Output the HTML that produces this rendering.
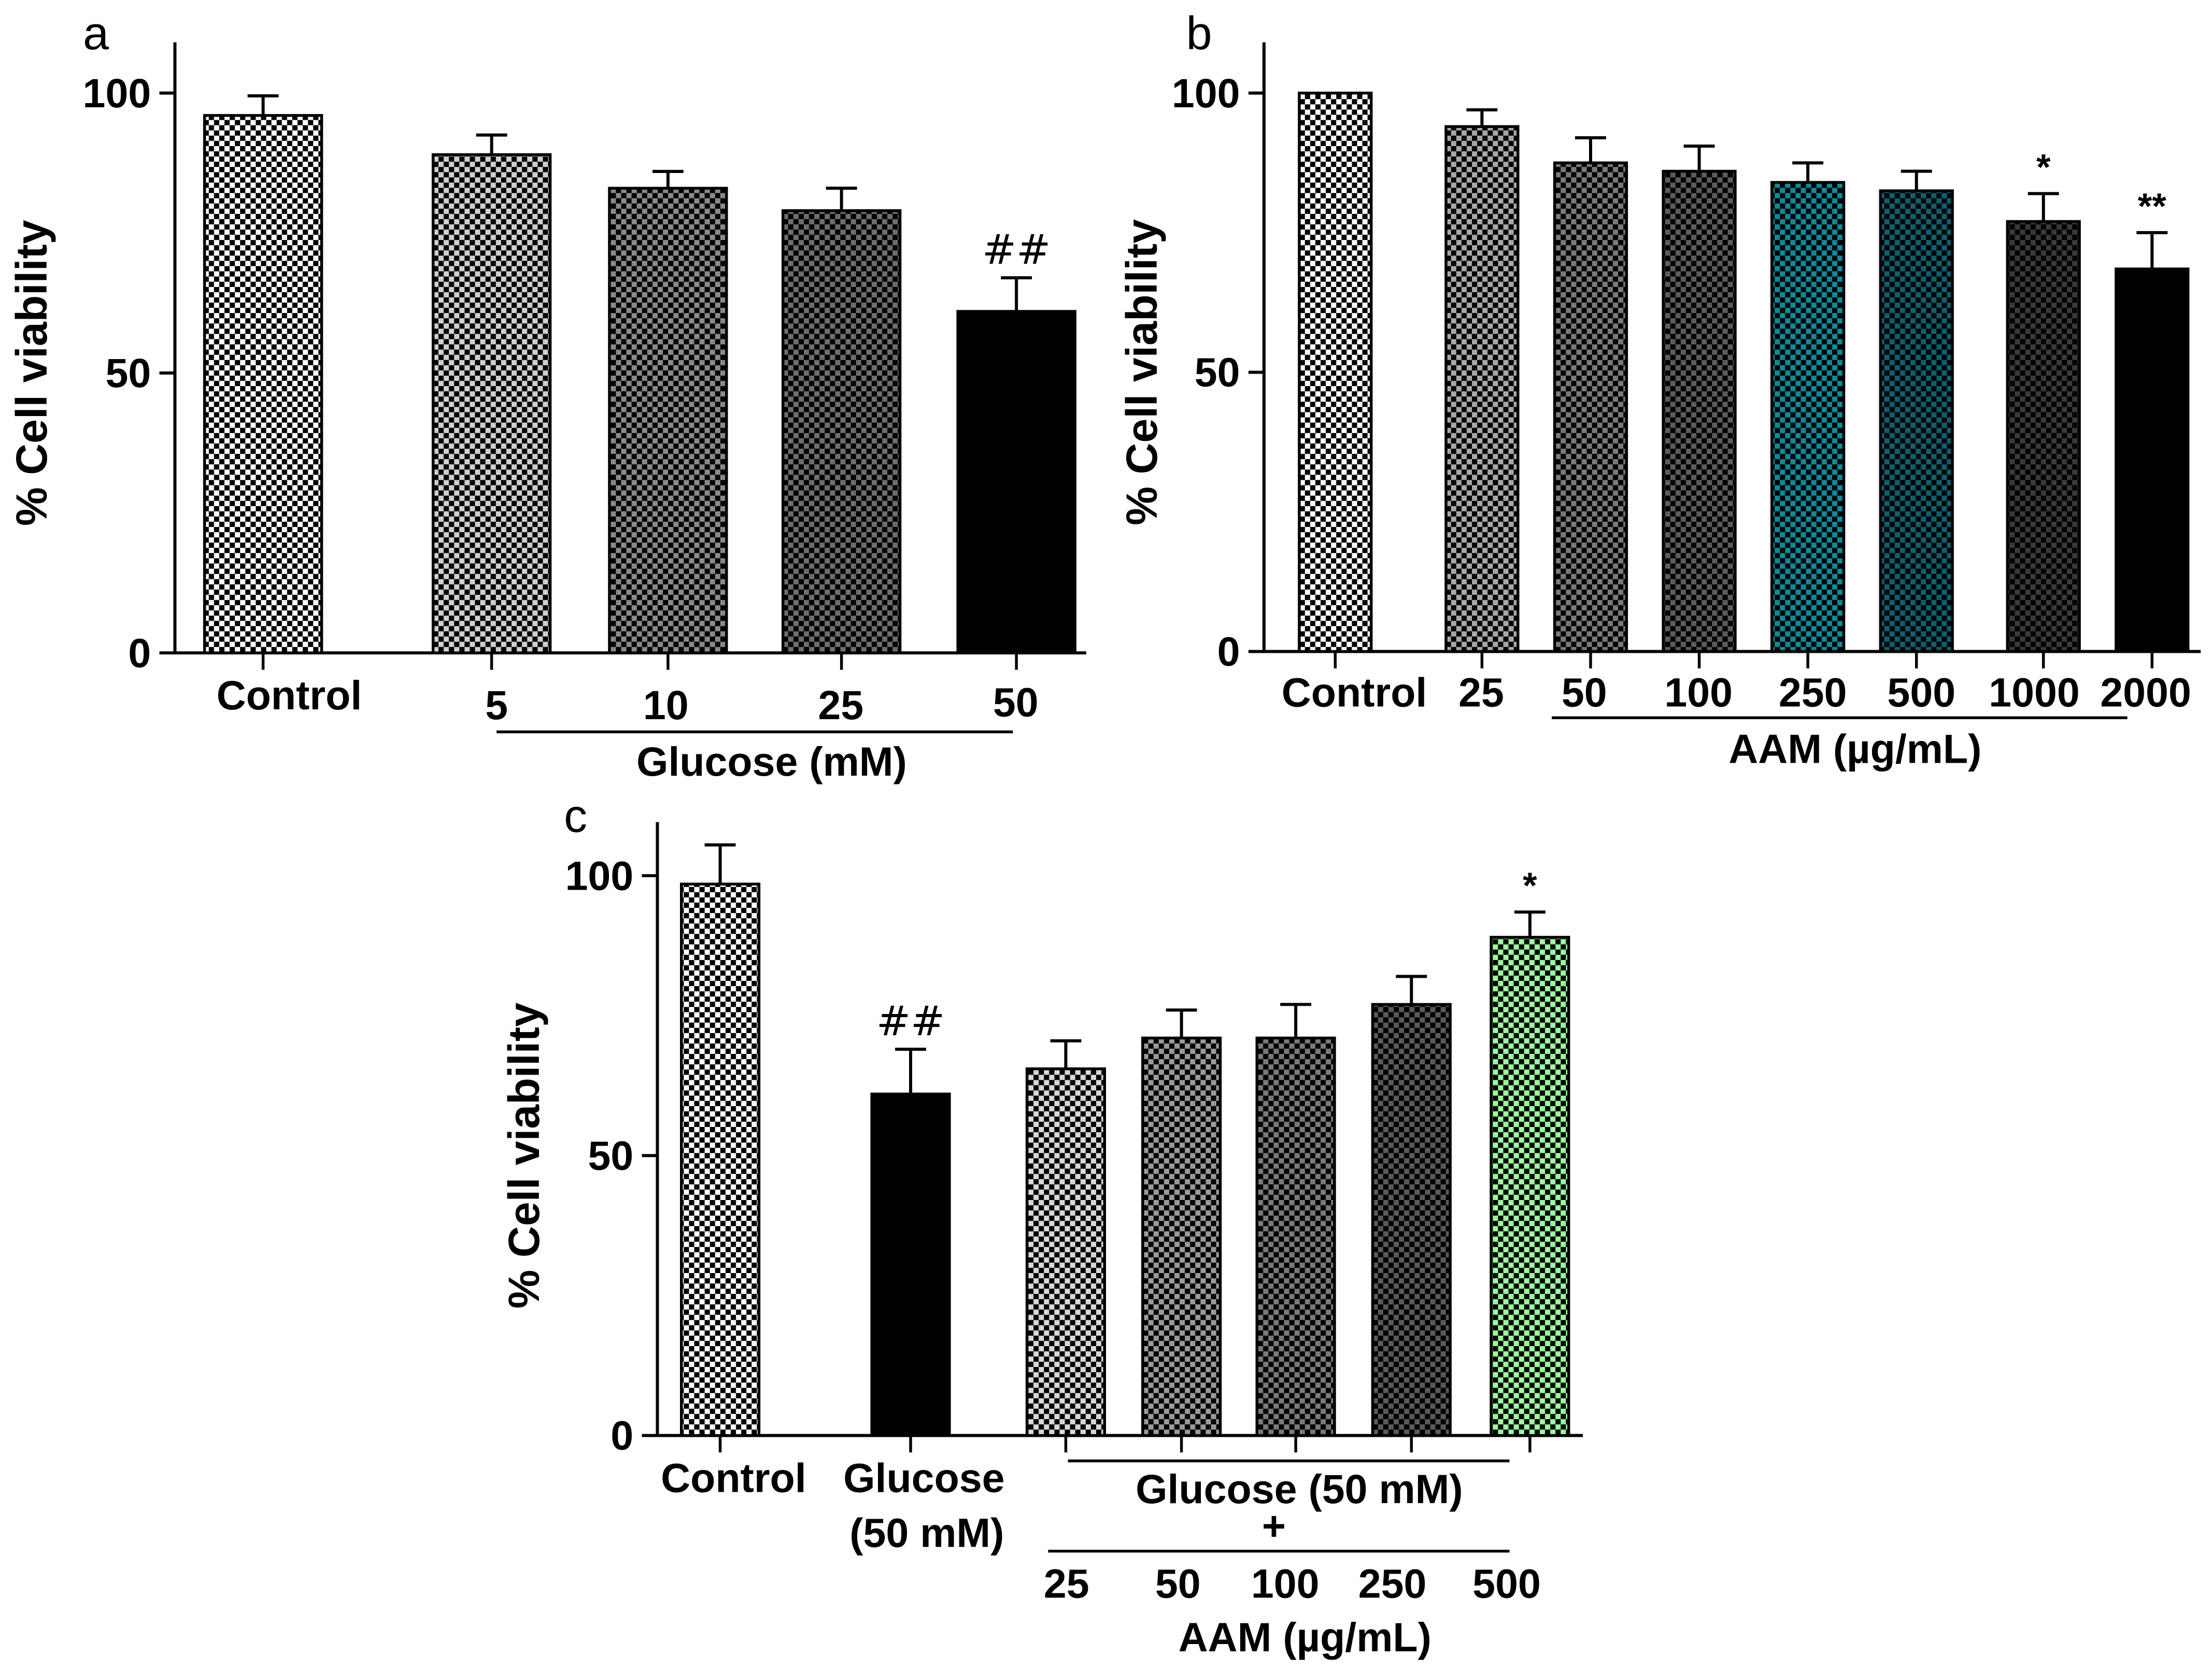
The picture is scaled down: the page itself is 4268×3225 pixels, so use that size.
<!DOCTYPE html>
<html><head><meta charset="utf-8">
<style>
html,body{margin:0;padding:0;background:#fff;}
svg{display:block;}
text{font-family:"Liberation Sans",Arial,sans-serif;font-weight:bold;fill:#000;}
</style></head>
<body>
<svg id="fig" width="4268" height="3225" viewBox="0 0 1568 1185" preserveAspectRatio="none" xmlns="http://www.w3.org/2000/svg">
<defs id="defs"></defs>
<g id="root"></g>
</svg>
<script>
// Panel a data
const aCategories = ["Control","5","10","25","50"];
const aValues = [96,89,83,79,61];
const aErrors = [3.5,3.5,3,4,6];
const aMarks = ["","","","","##"];
// Panel b data
const bCategories = ["Control","25","50","100","250","500","1000","2000"];
const bValues = [100,94,87.5,86,84,82.5,77,68.5];
const bErrors = [0,3,4.5,4.5,3.5,3.5,5,6.5];
const bMarks = ["","","","","","","*","**"];
// Panel c data
const cCategories = ["Control","Glucose","25","50","100","250","500"];
const cValues = [98.5,61,65.5,71,71,77,89];
const cErrors = [7,8,5,5,6,5,4.5];
const cMarks = ["","##","","","","","*"];
const yTicks = [0,50,100];

const NS="http://www.w3.org/2000/svg";
const root=document.getElementById('root');
const defs=document.getElementById('defs');
function mk(tag,attrs,parent){const e=document.createElementNS(NS,tag);for(const k in attrs)e.setAttribute(k,attrs[k]);(parent||root).appendChild(e);return e;}
function pattern(id,bg){
  const p=mk('pattern',{id:id,width:7.4,height:7.4,patternUnits:'userSpaceOnUse'},defs);
  mk('rect',{x:0,y:0,width:7.4,height:7.4,fill:bg},p);
  mk('rect',{x:0,y:0,width:3.7,height:3.7,fill:'#000'},p);
  mk('rect',{x:3.7,y:3.7,width:3.7,height:3.7,fill:'#000'},p);
}
function txt(x,y,s,size,anchor,parent,name){
  const t=mk('text',{x:x,y:y,'font-size':size,'text-anchor':anchor||'middle'},parent);
  t.textContent=s;
  
  
  return t;
}
function panel(cfg,cats,vals,errs,marks){
  const g=mk('g',{});
  
  
  const y=v=>cfg.y0-(v/100)*(cfg.y0-cfg.y100);
  const ax=mk('path',{d:`M${cfg.ax},${cfg.axTop}V${cfg.y0}H${cfg.axEnd}`,stroke:'#000','stroke-width':2.2,fill:'none'},g);
  
  
  yTicks.forEach(t=>{
    mk('line',{x1:cfg.ax-11,x2:cfg.ax,y1:y(t),y2:y(t),stroke:'#000','stroke-width':2.2},g);
    txt(cfg.ax-17,y(t)+10,String(t),29,'end',g,'y-tick-label');
  });
  const yt=txt(0,0,'% Cell viability',31,'middle',g,'y-axis-title');
  yt.setAttribute('transform',`translate(${cfg.ytx},${(cfg.y0+cfg.y100)/2}) rotate(-90)`);
  const lt=txt(cfg.lx,cfg.ly,cfg.letter,33,'middle',g,'panel-letter');
  lt.setAttribute('font-weight','normal');
  lt.setAttribute('style','font-weight:normal');
  cats.forEach((c,i)=>{
    const x0=cfg.bx[i],w=cfg.bw,cx=x0+w/2;
    const pid=cfg.name+'-p'+i;
    if(cfg.colors[i]!=='solid')pattern(pid,cfg.colors[i]);
    const top=y(vals[i]);
    if(errs[i]>0){
      mk('line',{x1:cx,x2:cx,y1:y(vals[i]+errs[i]),y2:top,stroke:'#000','stroke-width':2.2},g);
      mk('line',{x1:cx-11,x2:cx+11,y1:y(vals[i]+errs[i]),y2:y(vals[i]+errs[i]),stroke:'#000','stroke-width':2.2},g);
    }
    const r=mk('rect',{x:x0,y:top,width:w,height:cfg.y0-top,fill:cfg.colors[i]==='solid'?'#000':`url(#${pid})`,stroke:'#000','stroke-width':2},g);
    
    
    mk('line',{x1:cx,x2:cx,y1:cfg.y0,y2:cfg.y0+12,stroke:'#000','stroke-width':2},g);
    if(marks[i]){
      const m=txt(cx,y(vals[i]+errs[i])-10,marks[i],marks[i][0]==='#'?29:26,'middle',g,'significance-mark');
      if(marks[i][0]==='#'){m.setAttribute('style','font-family:"DejaVu Sans",sans-serif;font-weight:normal');}
    }
  });
  return {g,y};
}
const A=panel({name:'panel-a',letter:'a',lx:68,ly:35,ax:124,axTop:30,axEnd:770,y0:463,y100:66,ytx:33,
  bx:[145,307,432,555,679],bw:83,colors:['#fff','#cfcfcf','#8a8a8a','#6e6e6e','solid']},aCategories,aValues,aErrors,aMarks);
[[205,'Control',503],[352,'5',510],[472,'10',510],[596,'25',510],[720,'50',508]].forEach(([x,s,yy])=>txt(x,yy,s,29,'middle',A.g,'x-tick-label'));
mk('line',{x1:352,x2:718,y1:519,y2:519,stroke:'#000','stroke-width':2},A.g);
txt(547,550,'Glucose (mM)',29,'middle',A.g,'x-axis-title');
const B=panel({name:'panel-b',letter:'b',lx:850,ly:35,ax:896,axTop:30,axEnd:1560,y0:462,y100:66,ytx:820,
  bx:[921,1025,1102,1179,1256,1333,1423,1500],bw:51,colors:['#fff','#a8a8a8','#7a7a7a','#5c5c5c','#0f8a9a','#0c6070','#3a3a3a','solid']},bCategories,bValues,bErrors,bMarks);
[[960,'Control'],[1050,'25'],[1123,'50'],[1204,'100'],[1285,'250'],[1362,'500'],[1442,'1000'],[1521,'2000']].forEach(([x,s])=>txt(x,501,s,29,'middle',B.g,'x-tick-label'));
mk('line',{x1:1100,x2:1508,y1:509,y2:509,stroke:'#000','stroke-width':2},B.g);
txt(1315,541,'AAM (\u00b5g/mL)',29,'middle',B.g,'x-axis-title');
const C=panel({name:'panel-c',letter:'c',lx:408,ly:590,ax:466,axTop:583,axEnd:1122,y0:1018,y100:621,ytx:382,
  bx:[483,618,728,810,891,973,1057],bw:55,colors:['#fff','solid','#d8d8d8','#9a9a9a','#7a7a7a','#5a5a5a','#9dfc9d']},cCategories,cValues,cErrors,cMarks);
txt(520,1058,'Control',29,'middle',C.g,'x-tick-label');
txt(655,1058,'Glucose',29,'middle',C.g,'x-tick-label');
txt(657,1097,'(50 mM)',29,'middle',C.g,'x-tick-label');
mk('line',{x1:757,x2:1070,y1:1036,y2:1036,stroke:'#000','stroke-width':2},C.g);
txt(921,1066,'Glucose (50 mM)',29,'middle',C.g,'group-label');
txt(903,1092,'+',29,'middle',C.g,'plus-sign');
mk('line',{x1:743,x2:1070,y1:1100,y2:1100,stroke:'#000','stroke-width':2},C.g);
[[756,'25'],[835,'50'],[911,'100'],[987,'250'],[1068,'500']].forEach(([x,s])=>txt(x,1133,s,29,'middle',C.g,'x-tick-label'));
txt(925,1171,'AAM (\u00b5g/mL)',29,'middle',C.g,'x-axis-title');
</script>
</body></html>
